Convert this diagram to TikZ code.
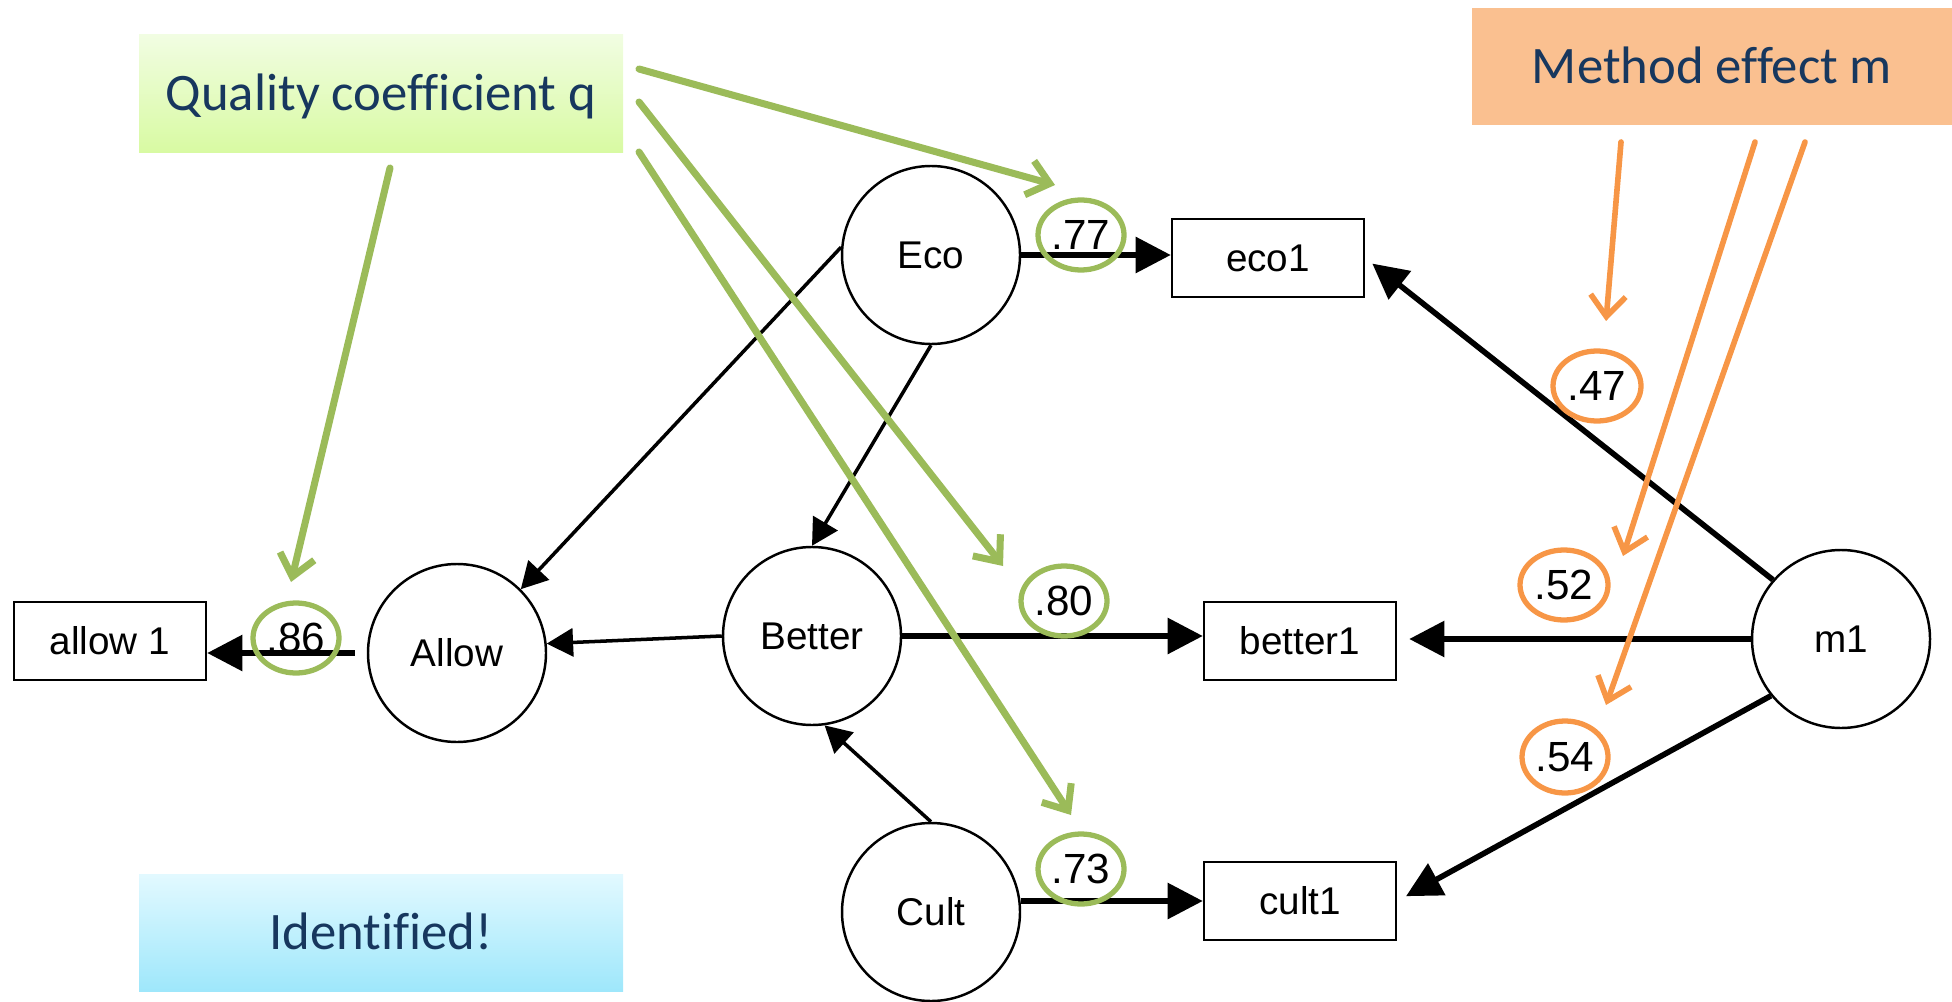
\documentclass[tikz,border=0pt]{standalone}
\usepackage{fontspec}
\setmainfont{Liberation Sans}
\newfontfamily\bannerfont[Ligatures=NoCommon]{Carlito}
\usepackage{tikz}
\usetikzlibrary{shapes.geometric,arrows.meta}
\definecolor{qgreen}{RGB}{155,187,89}
\definecolor{morange}{RGB}{247,150,70}
\definecolor{navy}{RGB}{23,55,94}
\definecolor{qtop}{RGB}{241,253,226}
\definecolor{qbot}{RGB}{216,250,162}
\definecolor{mfill}{RGB}{250,192,144}
\definecolor{itop}{RGB}{226,249,255}
\definecolor{ibot}{RGB}{158,231,251}
\tikzstyle{latent} = [draw, circle, line width=0.7pt, minimum size=1.78cm, inner sep=0pt]
\tikzstyle{manifest} = [draw, rectangle, line width=0.7pt, minimum width=1.92cm, minimum height=0.78cm, inner sep=0pt]
\tikzstyle{reg} = [draw, line width=1pt, -{Triangle[length=7.5pt,width=8pt]}]
\tikzstyle{load} = [draw, line width=1.6pt, -{Triangle[length=10pt,width=10pt]}]
\tikzstyle{ring} = [draw, ellipse, line width=1.5pt, minimum width=0.86cm, minimum height=0.7cm, inner sep=0pt, font=\fontsize{12}{14}\selectfont]
\tikzstyle{banner} = [rectangle, minimum width=4.84cm, minimum height=1.18cm, text height=0.45cm, text depth=0.12cm, text=navy, font=\bannerfont\fontsize{15}{18}\selectfont]
\tikzstyle{pointer} = [draw, line width=2pt, line cap=round, -{Straight Barb[length=6pt,width=10pt]}]
\tikzset{every node/.style={font=\fontsize{11}{13}\selectfont}}

\begin{document}
\begin{tikzpicture}
  \useasboundingbox (0,0) rectangle (19.52,10.01);

  % banners
  \node [banner, top color=qtop, bottom color=qbot] (qual) at (3.81,9.07) {Quality coefficient q};
  \node [banner, fill=mfill, minimum width=4.8cm, minimum height=1.17cm] (meth) at (17.12,9.34) {Method effect m};
  \node [banner, top color=itop, bottom color=ibot, minimum height=1.17cm] (ident) at (3.81,0.68) {Identified!};

  % latent variables
  \node [latent] (Eco) at (9.31,7.46) {Eco};
  \node [latent] (Allow) at (4.57,3.48) {Allow};
  \node [latent] (Better) at (8.12,3.65) {Better};
  \node [latent] (Cult) at (9.31,0.89) {Cult};
  \node [latent] (m1) at (18.41,3.62) {m1};

  % observed variables
  \node [manifest] (eco1) at (12.68,7.43) {eco1};
  \node [manifest] (better1) at (13.00,3.60) {better1};
  \node [manifest] (cult1) at (13.00,1.00) {cult1};
  \node [manifest] (allow1) at (1.10,3.60) {allow 1};

  % structural paths
  \path [reg] (Eco.175) -- (Allow.45);
  \path [reg] (Eco.south) -- (Better.north);
  \path [reg] (Better.west) -- (Allow.6);
  \path [reg] (Cult.north) -- (Better.-82);

  % quality and method paths
  \path [load] (Eco.east) -- (Eco.east -| eco1.west);
  \path [load] (Better.east) -- (Better.east -| better1.west);
  \path [load] (Cult.7) -- (Cult.7 -| cult1.west);
  \path [load, shorten <=0.12cm] (Allow.west) -- (Allow.west -| allow1.east);
  \path [load, shorten >=0.09cm] (m1.139) -- (eco1.east);
  \path [load, shorten >=0.12cm] (m1.west) -- (m1.west -| better1.east);
  \path [load, shorten >=0.1cm] (m1.-141) -- (cult1.east);

  % coefficients
  \node [ring, qgreen, text=black] (r77) at (10.81,7.66) {.77};
  \node [ring, qgreen, text=black] (r80) at (10.64,4.00) {.80};
  \node [ring, qgreen, text=black] (r73) at (10.81,1.32) {.73};
  \node [ring, qgreen, text=black] (r86) at (2.96,3.63) {.86};
  \node [ring, morange, text=black, minimum width=0.88cm] (r47) at (15.97,6.15) {.47};
  \node [ring, morange, text=black, minimum width=0.88cm] (r52) at (15.64,4.16) {.52};
  \node [ring, morange, text=black, minimum height=0.72cm] (r54) at (15.65,2.44) {.54};

  % pointers from the banners
  \coordinate (qa) at (6.39,9.32);
  \coordinate (qb) at (6.39,8.99);
  \coordinate (qc) at (6.39,8.49);
  \coordinate (qd) at (3.90,8.33);
  \coordinate (q77) at (10.55,8.16);
  \coordinate (q80) at (10.03,4.35);
  \coordinate (q73) at (10.71,1.86);
  \coordinate (q86) at (2.91,4.19);
  \path [pointer, qgreen] (qa) -- (q77);
  \path [pointer, qgreen] (qb) -- (q80);
  \path [pointer, qgreen] (qc) -- (q73);
  \path [pointer, qgreen] (qd) -- (q86);

  \coordinate (ma) at (16.21,8.59);
  \coordinate (mb) at (17.55,8.59);
  \coordinate (mc) at (18.05,8.59);
  \coordinate (m47) at (16.06,6.80);
  \coordinate (m52) at (16.23,4.45);
  \coordinate (m54) at (16.06,2.96);
  \path [pointer, morange, line width=1.6pt] (ma) -- (m47);
  \path [pointer, morange, line width=1.6pt] (mb) -- (m52);
  \path [pointer, morange, line width=1.6pt] (mc) -- (m54);
\end{tikzpicture}
\end{document}
